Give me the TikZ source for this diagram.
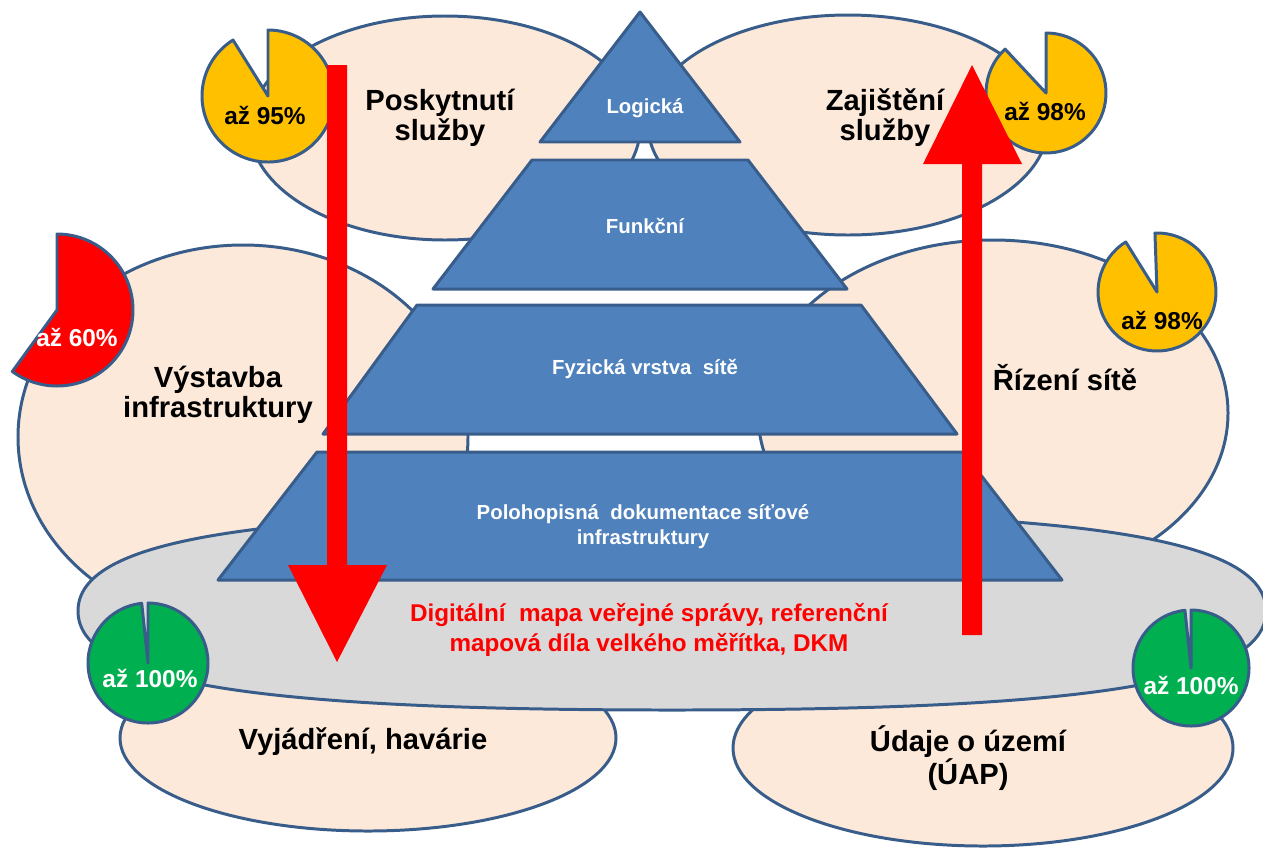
\documentclass[tikz,border=0pt]{standalone}
\usepackage{fontspec}
\setmainfont{Liberation Sans}
\definecolor{peach}{HTML}{FDE9D9}
\definecolor{rim}{HTML}{385D8A}
\definecolor{layer}{HTML}{4F81BD}
\definecolor{mapgrey}{HTML}{D9D9D9}
\definecolor{gold}{HTML}{FFC000}
\definecolor{okgreen}{HTML}{00B050}
\begin{document}
\begin{tikzpicture}[x=0.02cm, y=-0.02cm, line join=round,
  blob/.style={fill=peach, draw=rim, line width=1.7pt},
  level/.style={fill=layer, draw=rim, line width=1.7pt},
  pie/.style={draw=rim, line width=1.7pt},
  big/.style={font=\fontsize{16.6}{17}\selectfont\bfseries, align=center},
  lvl/.style={text=white, font=\fontsize{11.6}{14.2}\selectfont\bfseries, align=center},
  pct/.style={font=\fontsize{13.9}{16}\selectfont\bfseries}]
\def\w{1263} \def\h{849} % velikost obrazku
\useasboundingbox (0,0) rectangle (\w,\h);
% oblasti
\draw[blob] (445,128) ellipse [x radius=195, y radius=112];
\draw[blob] (848,125) ellipse [x radius=200, y radius=110];
\draw[blob] (243,437) ellipse [x radius=225, y radius=192];
\draw[blob] (993,413) ellipse [x radius=235, y radius=173];
\draw[blob] (368,738) ellipse [x radius=248, y radius=93];
\draw[blob] (983,748) ellipse [x radius=250, y radius=98];
\draw[fill=mapgrey, draw=rim, line width=1.7pt] (78,611) .. controls (78,540) and (250,512) .. (672,512)
  .. controls (1094,512) and (1266,540) .. (1266,611) .. controls (1266,682) and (1094,710) .. (672,710)
  .. controls (250,710) and (78,682) .. (78,611) -- cycle;
% pyramida
\draw[level] (640,12) -- (740,142) -- (540,142) -- cycle;
\draw[level] (532,160) -- (748,160) -- (847,289) -- (433,289) -- cycle;
\draw[level] (417,305) -- (861,305) -- (957,434) -- (323,434) -- cycle;
\draw[level] (317,452) -- (963,452) -- (1062,580) -- (218,580) -- cycle;
% kolace
\draw[pie, fill=gold] (268,96) -- ++(-122:66) arc[start angle=-122, end angle=-450, radius=66] -- cycle;
\draw[pie, fill=gold] (1046,93) -- ++(-133:60) arc[start angle=-133, end angle=-450, radius=60] -- cycle;
\draw[pie, fill=gold] (1157,292) -- ++(-122:59) arc[start angle=-122, end angle=-452, radius=59] -- cycle;
\draw[pie, fill=red] (57,310) -- ++(-90:76) arc[start angle=-90, end angle=126, radius=76] -- cycle;
\draw[pie, fill=okgreen] (148,663) -- ++(-96:60) arc[start angle=-96, end angle=-450, radius=60] -- cycle;
\draw[pie, fill=okgreen] (1191,668) -- ++(-96:58) arc[start angle=-96, end angle=-450, radius=58] -- cycle;
% sipky
\fill[red] (327,65) -- (347,65) -- (347,565) -- (387,565) -- (337,662) -- (288,565) -- (327,565) -- cycle;
\fill[red] (962,635) -- (982,635) -- (982,164) -- (1022,164) -- (972,65) -- (923,164) -- (962,164) -- cycle;
% texty
\node[big] (posk) at (440,118) {Poskytnutí\\služby};
\node[big] (zaj) at (885,118) {Zajištění\\služby};
\node[big] (vyst) at (218,395) {Výstavba\\infrastruktury};
\node[big] (rizeni) at (1065,378) {Řízení sítě};
\node[big] (vyj) at (363,742) {Vyjádření, havárie};
\node[big] (udaje) at (968,758) {Údaje o území\\(ÚAP)};
\node[lvl] (logicka) at (645,108) {Logická};
\node[lvl] (funkcni) at (645,226) {Funkční};
\node[lvl] (fyzicka) at (645,369) {Fyzická vrstva \ sítě};
\node[lvl] (poloh) at (643,527) {Polohopisná \ dokumentace síťové\\infrastruktury};
\node[text=red, font=\fontsize{13.8}{17}\selectfont\bfseries, align=center] (dmvs) at (649,630)
  {Digitální \ mapa veřejné správy, referenční\\mapová díla velkého měřítka, DKM};
\node[pct] (p95) at (265,115) {až 95\%};
\node[pct] (p98a) at (1045,111) {až 98\%};
\node[pct] (p98b) at (1162,320) {až 98\%};
\node[pct, text=white] (p60) at (77,337) {až 60\%};
\node[pct, text=white] (p100a) at (150,678) {až 100\%};
\node[pct, text=white] (p100b) at (1191,685) {až 100\%};
\end{tikzpicture}
\end{document}
